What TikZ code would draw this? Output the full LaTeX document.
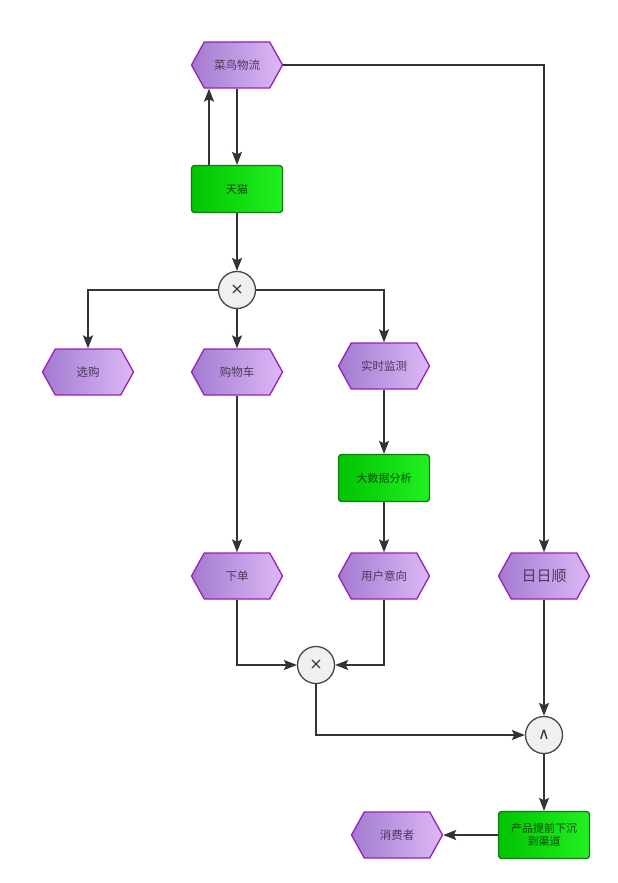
\documentclass[tikz,border=0pt]{standalone}
\usepackage{fontspec}
\setmainfont{Noto Sans CJK SC}
\newfontfamily\symfont{DejaVu Sans}
\usetikzlibrary{shapes.symbols,arrows.meta}
\definecolor{hexL}{HTML}{A27BD0}
\definecolor{hexR}{HTML}{DDB8F6}
\definecolor{hexB}{HTML}{9A1FB8}
\definecolor{grL}{HTML}{00C400}
\definecolor{grR}{HTML}{22F022}
\definecolor{grB}{HTML}{107A10}
\definecolor{lineC}{HTML}{333333}
\definecolor{txtC}{HTML}{4A3A5A}
\begin{document}
\begin{tikzpicture}[x=1pt,y=-1pt,
  hexbox/.style={signal, signal to=west and east, signal pointer angle=122,
    minimum width=91pt, minimum height=46pt, inner sep=0pt,
    draw=hexB, line width=1.3pt, left color=hexL, right color=hexR,
    text=txtC, font=\fontsize{11.5}{13}\selectfont},
  actbox/.style={rectangle, rounded corners=3pt, minimum width=91pt, minimum height=47pt,
    draw=grB, line width=1.3pt, left color=grL, right color=grR,
    text=black!70!green, font=\fontsize{11}{13}\selectfont, align=center},
  gate/.style={circle, minimum size=37pt, inner sep=0pt, draw=lineC!90, line width=1.3pt,
    fill=gray!12, font=\symfont\fontsize{16}{16}\selectfont, text=lineC},
  conn/.style={draw=lineC, line width=1.8pt, -{Stealth[length=13pt,width=10pt,inset=2.5pt]}}
]
\useasboundingbox (0,0) rectangle (618,883);
\fill[white] (0,0) rectangle (618,883);

\node[hexbox] (cainiao) at (237,65) {菜鸟物流};
\node[actbox] (tmall) at (237,189) {天猫};
\node[gate] (x1) at (237,290) {×};
\node[hexbox] (xuangou) at (88,372) {选购};
\node[hexbox] (cart) at (237,372) {购物车};
\node[hexbox] (monitor) at (384,366) {实时监测};
\node[actbox] (bigdata) at (384,478) {大数据分析};
\node[hexbox] (order) at (237,576) {下单};
\node[hexbox] (intent) at (384,576) {用户意向};
\node[hexbox, font=\fontsize{15}{17}\selectfont] (rrs) at (544,576) {日日顺};
\node[gate] (x2) at (316,665) {×};
\node[gate] (and) at (544,735) {∧};
\node[actbox] (sink) at (544,835) {产品提前下沉\\到渠道};
\node[hexbox] (consumer) at (397,835) {消费者};

\draw[conn] (cainiao.south) -- (tmall.north);
\draw[conn] (tmall.north -| 209,0) -- (cainiao.south -| 209,0);
\draw[conn] (cainiao.east) -| (rrs.north);
\draw[conn] (tmall.south) -- (x1.north);
\draw[conn] (x1.west) -| (xuangou.north);
\draw[conn] (x1.south) -- (cart.north);
\draw[conn] (x1.east) -| (monitor.north);
\draw[conn] (cart.south) -- (order.north);
\draw[conn] (monitor.south) -- (bigdata.north);
\draw[conn] (bigdata.south) -- (intent.north);
\draw[conn] (order.south) |- (x2.west);
\draw[conn] (intent.south) |- (x2.east);
\draw[conn] (x2.south) |- (and.west);
\draw[conn] (rrs.south) -- (and.north);
\draw[conn] (and.south) -- (sink.north);
\draw[conn] (sink.west) -- (consumer.east);
\end{tikzpicture}
\end{document}
